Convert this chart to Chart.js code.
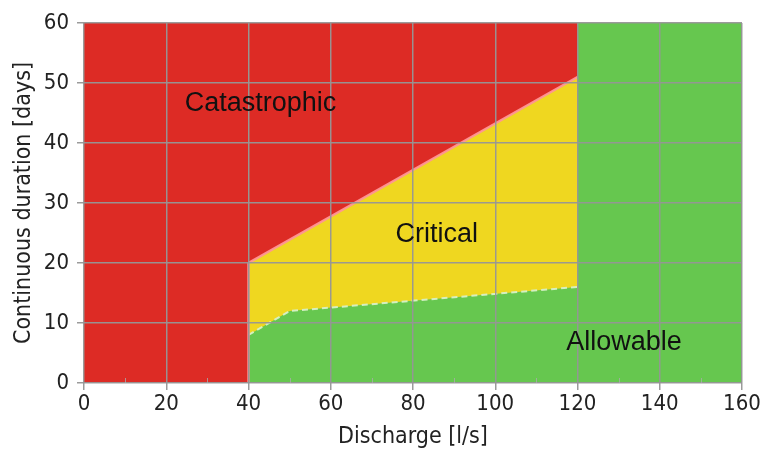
<!DOCTYPE html>
<html>
<head>
<meta charset="utf-8">
<script src="https://cdn.jsdelivr.net/npm/chart.js@4/dist/chart.umd.min.js"></script>
<style>
  html, body { margin: 0; padding: 0; background: #fff; }
  #wrap { width: 763px; height: 452px; }
</style>
</head>
<body>
<div id="wrap"><canvas id="zoneChart"></canvas></div>
<script>
// axis ranges
const xMin = 0, xMax = 160, xStep = 20, xMinorStep = 10;
const yMin = 0, yMax = 60, yStep = 10;

// zone boundaries
const redBlockX = [0, 40];            // fully catastrophic below 40 l/s
const greenBlockX = [0, 160];         // allowable is the background
const catastrophicEdgeX = [40, 40, 120];
const catastrophicEdgeY = [0, 20, 51];
const allowableEdgeX = [40, 50, 120];
const allowableEdgeY = [8, 12, 16];

// zone labels
const zoneNames = ['Catastrophic', 'Critical', 'Allowable'];
const zoneLabelX = [42.9, 85.8, 131.3];
const zoneLabelY = [46.5, 24.8, 6.8];

const RED = '#dd2b25';
const YELLOW = '#efd720';
const GREEN = '#66c74f';
const GRID = 'rgba(150,150,150,0.95)';

const pts = (xs, ys) => xs.map((x, i) => ({ x: x, y: ys[i] }));

// zone names + the small minor ticks along the bottom
const zoneText = {
  id: 'zoneText',
  afterDraw(chart) {
    const { ctx, scales, chartArea } = chart;
    ctx.save();
    ctx.strokeStyle = 'rgba(170,170,170,0.8)';
    ctx.lineWidth = 1;
    for (let v = xMin + xMinorStep; v < xMax; v += xStep) {
      const px = Math.round(scales.x.getPixelForValue(v)) + 0.5;
      ctx.beginPath();
      ctx.moveTo(px, chartArea.bottom);
      ctx.lineTo(px, chartArea.bottom - 5);
      ctx.stroke();
    }
    ctx.font = '27px "Liberation Sans", Arial, sans-serif';
    ctx.fillStyle = '#111';
    ctx.textAlign = 'center';
    ctx.textBaseline = 'middle';
    zoneNames.forEach((name, i) => {
      ctx.fillText(name, scales.x.getPixelForValue(zoneLabelX[i]), scales.y.getPixelForValue(zoneLabelY[i]));
    });
    ctx.restore();
  }
};

const tickFont = { family: '"DejaVu Sans Condensed", "DejaVu Sans", sans-serif', size: 22 };
const titleFont = { family: '"DejaVu Sans Condensed", "DejaVu Sans", sans-serif', size: 23 };

new Chart(document.getElementById('zoneChart'), {
  type: 'line',
  data: {
    datasets: [
      {
        // catastrophic above the sloping line
        data: pts(catastrophicEdgeX, catastrophicEdgeY),
        fill: 'end',
        backgroundColor: RED,
        borderColor: 'rgba(255,150,150,0.95)',
        borderWidth: 2.5,
        pointRadius: 0
      },
      {
        data: pts(redBlockX, [yMax, yMax]),
        fill: 'origin',
        backgroundColor: RED,
        borderWidth: 0,
        pointRadius: 0
      },
      {
        // critical band above the allowable edge
        data: pts(allowableEdgeX, allowableEdgeY),
        fill: 'end',
        backgroundColor: YELLOW,
        borderColor: 'rgba(215,240,200,0.95)',
        borderWidth: 2,
        borderDash: [6, 4],
        pointRadius: 0
      },
      {
        data: pts(greenBlockX, [yMax, yMax]),
        fill: 'origin',
        backgroundColor: GREEN,
        borderWidth: 0,
        pointRadius: 0
      }
    ]
  },
  options: {
    responsive: true,
    maintainAspectRatio: false,
    animation: false,
    layout: { padding: { top: 23, right: 21, left: 0, bottom: 0 } },
    plugins: {
      legend: { display: false },
      tooltip: { enabled: false }
    },
    scales: {
      x: {
        type: 'linear',
        min: xMin,
        max: xMax,
        ticks: { stepSize: xStep, color: '#222', font: tickFont, padding: 1 },
        grid: { z: 1, color: GRID, lineWidth: 1.5, tickLength: 7, tickColor: GRID },
        border: { display: false },
        title: { display: true, text: 'Discharge [l/s]', color: '#222', font: titleFont, padding: { top: 0, bottom: 1 } },
        afterFit: s => { s.height = 69; }
      },
      y: {
        min: yMin,
        max: yMax,
        ticks: { stepSize: yStep, color: '#222', font: tickFont, padding: 8 },
        grid: { z: 1, color: GRID, lineWidth: 1.5, tickLength: 7, tickColor: GRID },
        border: { display: false },
        title: { display: true, text: 'Continuous duration [days]', color: '#222', font: titleFont, padding: { top: 10, bottom: 0 } },
        afterFit: s => { s.width = 84; }
      }
    }
  },
  plugins: [zoneText]
});
</script>
</body>
</html>
